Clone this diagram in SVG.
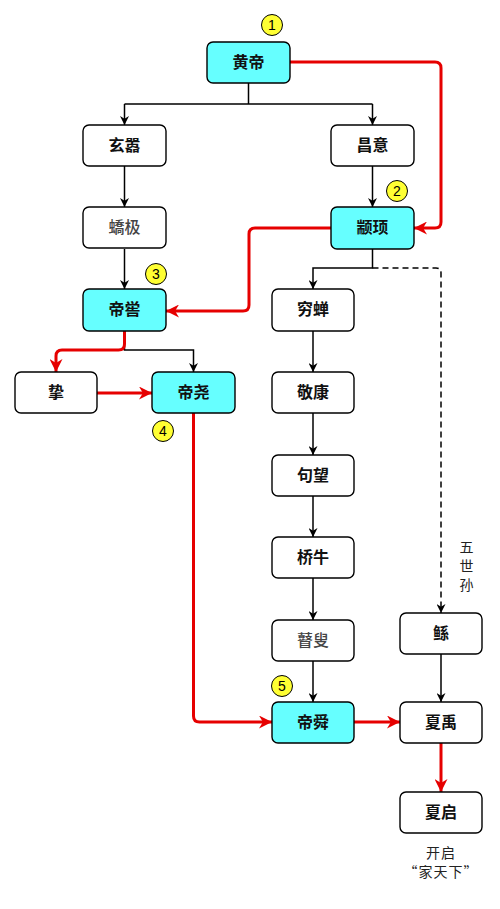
<svg xmlns="http://www.w3.org/2000/svg" width="500" height="909" viewBox="0 0 500 909">
<style>
.box{fill:#fff;stroke:#000;stroke-width:1.4}
.hl{fill:#66FFFF;stroke:#000;stroke-width:1.4}
.lbl{font-family:"Noto Sans CJK SC","Noto Sans",sans-serif;font-size:16px;font-weight:bold;fill:#111;text-anchor:middle}
.lbl2{font-family:"Noto Sans CJK SC","Noto Sans",sans-serif;font-size:16px;font-weight:500;fill:#444;text-anchor:middle}
.note{font-family:"Noto Sans CJK SC","Noto Sans",sans-serif;font-size:14px;fill:#222;text-anchor:middle;letter-spacing:1px}
.blk{fill:none;stroke:#000;stroke-width:1.5}
.dsh{fill:none;stroke:#000;stroke-width:1.5;stroke-dasharray:6,4}
.red{fill:none;stroke:#E60000;stroke-width:3;stroke-linejoin:round}
.num circle{fill:#FFFF33;stroke:#000;stroke-width:1}
.num text{font-family:"Liberation Sans",Arial,sans-serif;font-size:14px;fill:#000;text-anchor:middle}
</style>
<defs>
<marker id="ab" markerUnits="userSpaceOnUse" viewBox="0 0 10 10" refX="10" refY="5" markerWidth="9" markerHeight="9" orient="auto">
<path d="M0,0 L10,5 L0,10 L3,5 z" fill="#000"/>
</marker>
<marker id="ar" markerUnits="userSpaceOnUse" viewBox="0 0 10 10" refX="10" refY="5" markerWidth="14" markerHeight="13" orient="auto">
<path d="M0,0 L10,5 L0,10 L3,5 z" fill="#E60000"/>
</marker>
</defs>
<rect width="500" height="909" fill="#fff"/>
<g id="connectors">
<path class="blk" d="M248.5,83 V104 M124.5,104 H372.5" />
<path class="blk" d="M124.5,104 V125" marker-end="url(#ab)"/>
<path class="blk" d="M372.5,104 V125" marker-end="url(#ab)"/>
<path class="blk" d="M124.5,166 V207" marker-end="url(#ab)"/>
<path class="blk" d="M124.5,249 V289" marker-end="url(#ab)"/>
<path class="blk" d="M372.5,166 V207" marker-end="url(#ab)"/>
<path class="blk" d="M372.5,249 V268 H313 V289" marker-end="url(#ab)"/>
<path class="dsh" d="M372.5,268 H436 Q441,268 441,273 V613" marker-end="url(#ab)"/>
<path class="blk" d="M124.5,340 V350 H193.5 V372" marker-end="url(#ab)"/>
<path class="blk" d="M313,331 V372" marker-end="url(#ab)"/>
<path class="blk" d="M313,413 V455" marker-end="url(#ab)"/>
<path class="blk" d="M313,496 V537" marker-end="url(#ab)"/>
<path class="blk" d="M313,578 V620" marker-end="url(#ab)"/>
<path class="blk" d="M313,661 V702" marker-end="url(#ab)"/>
<path class="blk" d="M441,654 V702" marker-end="url(#ab)"/>
<path class="red" d="M290,62 H435 Q441,62 441,68 V222 Q441,228 435,228 H414" marker-end="url(#ar)"/>
<path class="red" d="M331,228 H255 Q249,228 249,234 V305 Q249,311 243,311 H166" marker-end="url(#ar)"/>
<path class="red" d="M124.5,331 V344 Q124.5,350 118.5,350 H62 Q56,350 56,356 V372" marker-end="url(#ar)"/>
<path class="red" d="M97,393 H152" marker-end="url(#ar)"/>
<path class="red" d="M193.5,413 V716 Q193.5,722 199.5,722 H272" marker-end="url(#ar)"/>
<path class="red" d="M354,722 H400" marker-end="url(#ar)"/>
<path class="red" d="M441,743 V792" marker-end="url(#ar)"/>
</g>
<g id="n_huangdi"><rect class="hl" x="207" y="42" width="83" height="41" rx="6"/><text class="lbl" x="248.5" y="68">黄帝</text></g>
<g id="n_xuanxiao"><rect class="box" x="83" y="125" width="83" height="41" rx="6"/><text class="lbl" x="124.5" y="151">玄嚣</text></g>
<g id="n_changyi"><rect class="box" x="331" y="125" width="83" height="41" rx="6"/><text class="lbl" x="372.5" y="151">昌意</text></g>
<g id="n_jiaoji"><rect class="box" x="83" y="207" width="83" height="41" rx="6"/><text class="lbl2" x="124.5" y="233">蟜极</text></g>
<g id="n_zhuanxu"><rect class="hl" x="331" y="207" width="83" height="42" rx="6"/><text class="lbl" x="372.5" y="233">颛顼</text></g>
<g id="n_diku"><rect class="hl" x="83" y="289" width="83" height="42" rx="6"/><text class="lbl" x="124.5" y="315">帝喾</text></g>
<g id="n_qiongchan"><rect class="box" x="272" y="289" width="82" height="42" rx="6"/><text class="lbl" x="313" y="315">穷蝉</text></g>
<g id="n_zhi"><rect class="box" x="15" y="372" width="82" height="41" rx="6"/><text class="lbl" x="56" y="398">挚</text></g>
<g id="n_diyao"><rect class="hl" x="152" y="372" width="83" height="41" rx="6"/><text class="lbl" x="193.5" y="398">帝尧</text></g>
<g id="n_jingkang"><rect class="box" x="272" y="372" width="82" height="41" rx="6"/><text class="lbl" x="313" y="398">敬康</text></g>
<g id="n_juwang"><rect class="box" x="272" y="455" width="82" height="41" rx="6"/><text class="lbl" x="313" y="481">句望</text></g>
<g id="n_qiaoniu"><rect class="box" x="272" y="537" width="82" height="41" rx="6"/><text class="lbl" x="313" y="563">桥牛</text></g>
<g id="n_gusou"><rect class="box" x="272" y="620" width="82" height="41" rx="6"/><text class="lbl2" x="313" y="646">瞽叟</text></g>
<g id="n_gun"><rect class="box" x="400" y="613" width="82" height="41" rx="6"/><text class="lbl" x="441" y="639">鲧</text></g>
<g id="n_dishun"><rect class="hl" x="272" y="702" width="82" height="41" rx="6"/><text class="lbl" x="313" y="728">帝舜</text></g>
<g id="n_xiayu"><rect class="box" x="400" y="702" width="82" height="41" rx="6"/><text class="lbl" x="441" y="728">夏禹</text></g>
<g id="n_xiaqi"><rect class="box" x="400" y="792" width="82" height="41" rx="6"/><text class="lbl" x="441" y="818">夏启</text></g>
<g id="labels">
<text class="note" x="467" y="552">五</text>
<text class="note" x="467" y="571">世</text>
<text class="note" x="467" y="590">孙</text>
<text class="note" x="441" y="858">开启</text>
<text class="note" x="441" y="877">“家天下”</text>
</g>
<g id="badges" class="num">
<circle cx="272" cy="25" r="10.5"/><text x="272" y="30">1</text>
<circle cx="397" cy="191" r="10.5"/><text x="397" y="196">2</text>
<circle cx="156" cy="274" r="10.5"/><text x="156" y="279">3</text>
<circle cx="163" cy="431" r="10.5"/><text x="163" y="436">4</text>
<circle cx="282" cy="686" r="10.5"/><text x="282" y="691">5</text>
</g>
</svg>
